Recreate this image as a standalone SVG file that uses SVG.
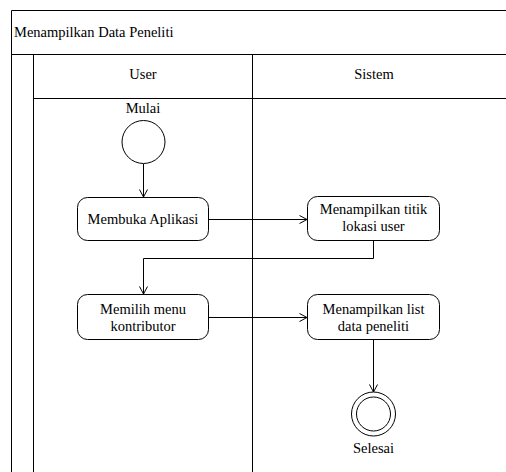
<svg xmlns="http://www.w3.org/2000/svg" width="506" height="472" viewBox="0 0 506 472" font-family="Liberation Serif" font-size="14.5">
<style>
.ln{stroke:#000;stroke-width:1;fill:none}
.box{fill:#fff;stroke:#000;stroke-width:1}
.c{text-anchor:middle}
.edge{stroke:#000;stroke-width:1;fill:none;marker-end:url(#arr)}
</style>
<defs>
<marker id="arr" viewBox="0 0 10 10" refX="9.5" refY="5" markerWidth="10" markerHeight="10" markerUnits="userSpaceOnUse" orient="auto">
<path d="M2,1 L9.5,5 L2,9" fill="none" stroke="#000" stroke-width="1"/>
</marker>
</defs>
<rect width="506" height="472" fill="#fff"/>
<g id="frame">
<path class="ln" d="M11.5,472 V10.5 H506"/>
<path class="ln" d="M11.5,54.5 H506"/>
<path class="ln" d="M33.5,472 V54.5"/>
<path class="ln" d="M33.5,98.5 H506"/>
<path class="ln" d="M252.5,54.5 V472"/>
<text x="14" y="37">Menampilkan Data Peneliti</text>
<text class="c" x="143" y="79">User</text>
<text class="c" x="374" y="79">Sistem</text>
</g>
<g id="connectors">
<path class="edge" d="M143.5,164 V197"/>
<path class="edge" d="M208,219.5 H307"/>
<path class="edge" d="M373.5,241 V258.5 H143.5 V294"/>
<path class="edge" d="M208,317.5 H307"/>
<path class="edge" d="M373.5,339 V392"/>
</g>
<g id="start">
<circle class="box" cx="143.5" cy="142" r="21.5"/>
<text class="c" x="143" y="113">Mulai</text>
</g>
<g id="membuka">
<rect class="box" x="77.5" y="197.5" width="131" height="43" rx="10"/>
<text class="c" x="143" y="224">Membuka Aplikasi</text>
</g>
<g id="titik">
<rect class="box" x="307.5" y="196.5" width="132" height="44" rx="10"/>
<text class="c" x="373.5" y="214">Menampilkan titik</text>
<text class="c" x="373.5" y="231">lokasi user</text>
</g>
<g id="memilih">
<rect class="box" x="77.5" y="294.5" width="131" height="45" rx="10"/>
<text class="c" x="143" y="313.5">Memilih menu</text>
<text class="c" x="143" y="330.5">kontributor</text>
</g>
<g id="list">
<rect class="box" x="307.5" y="294.5" width="132" height="45" rx="10"/>
<text class="c" x="373.5" y="313.5">Menampilkan list</text>
<text class="c" x="373.5" y="330.5">data peneliti</text>
</g>
<g id="end">
<circle class="box" cx="373.5" cy="414" r="22"/>
<circle class="box" cx="373.5" cy="414" r="17"/>
<text class="c" x="373.5" y="453">Selesai</text>
</g>
</svg>
